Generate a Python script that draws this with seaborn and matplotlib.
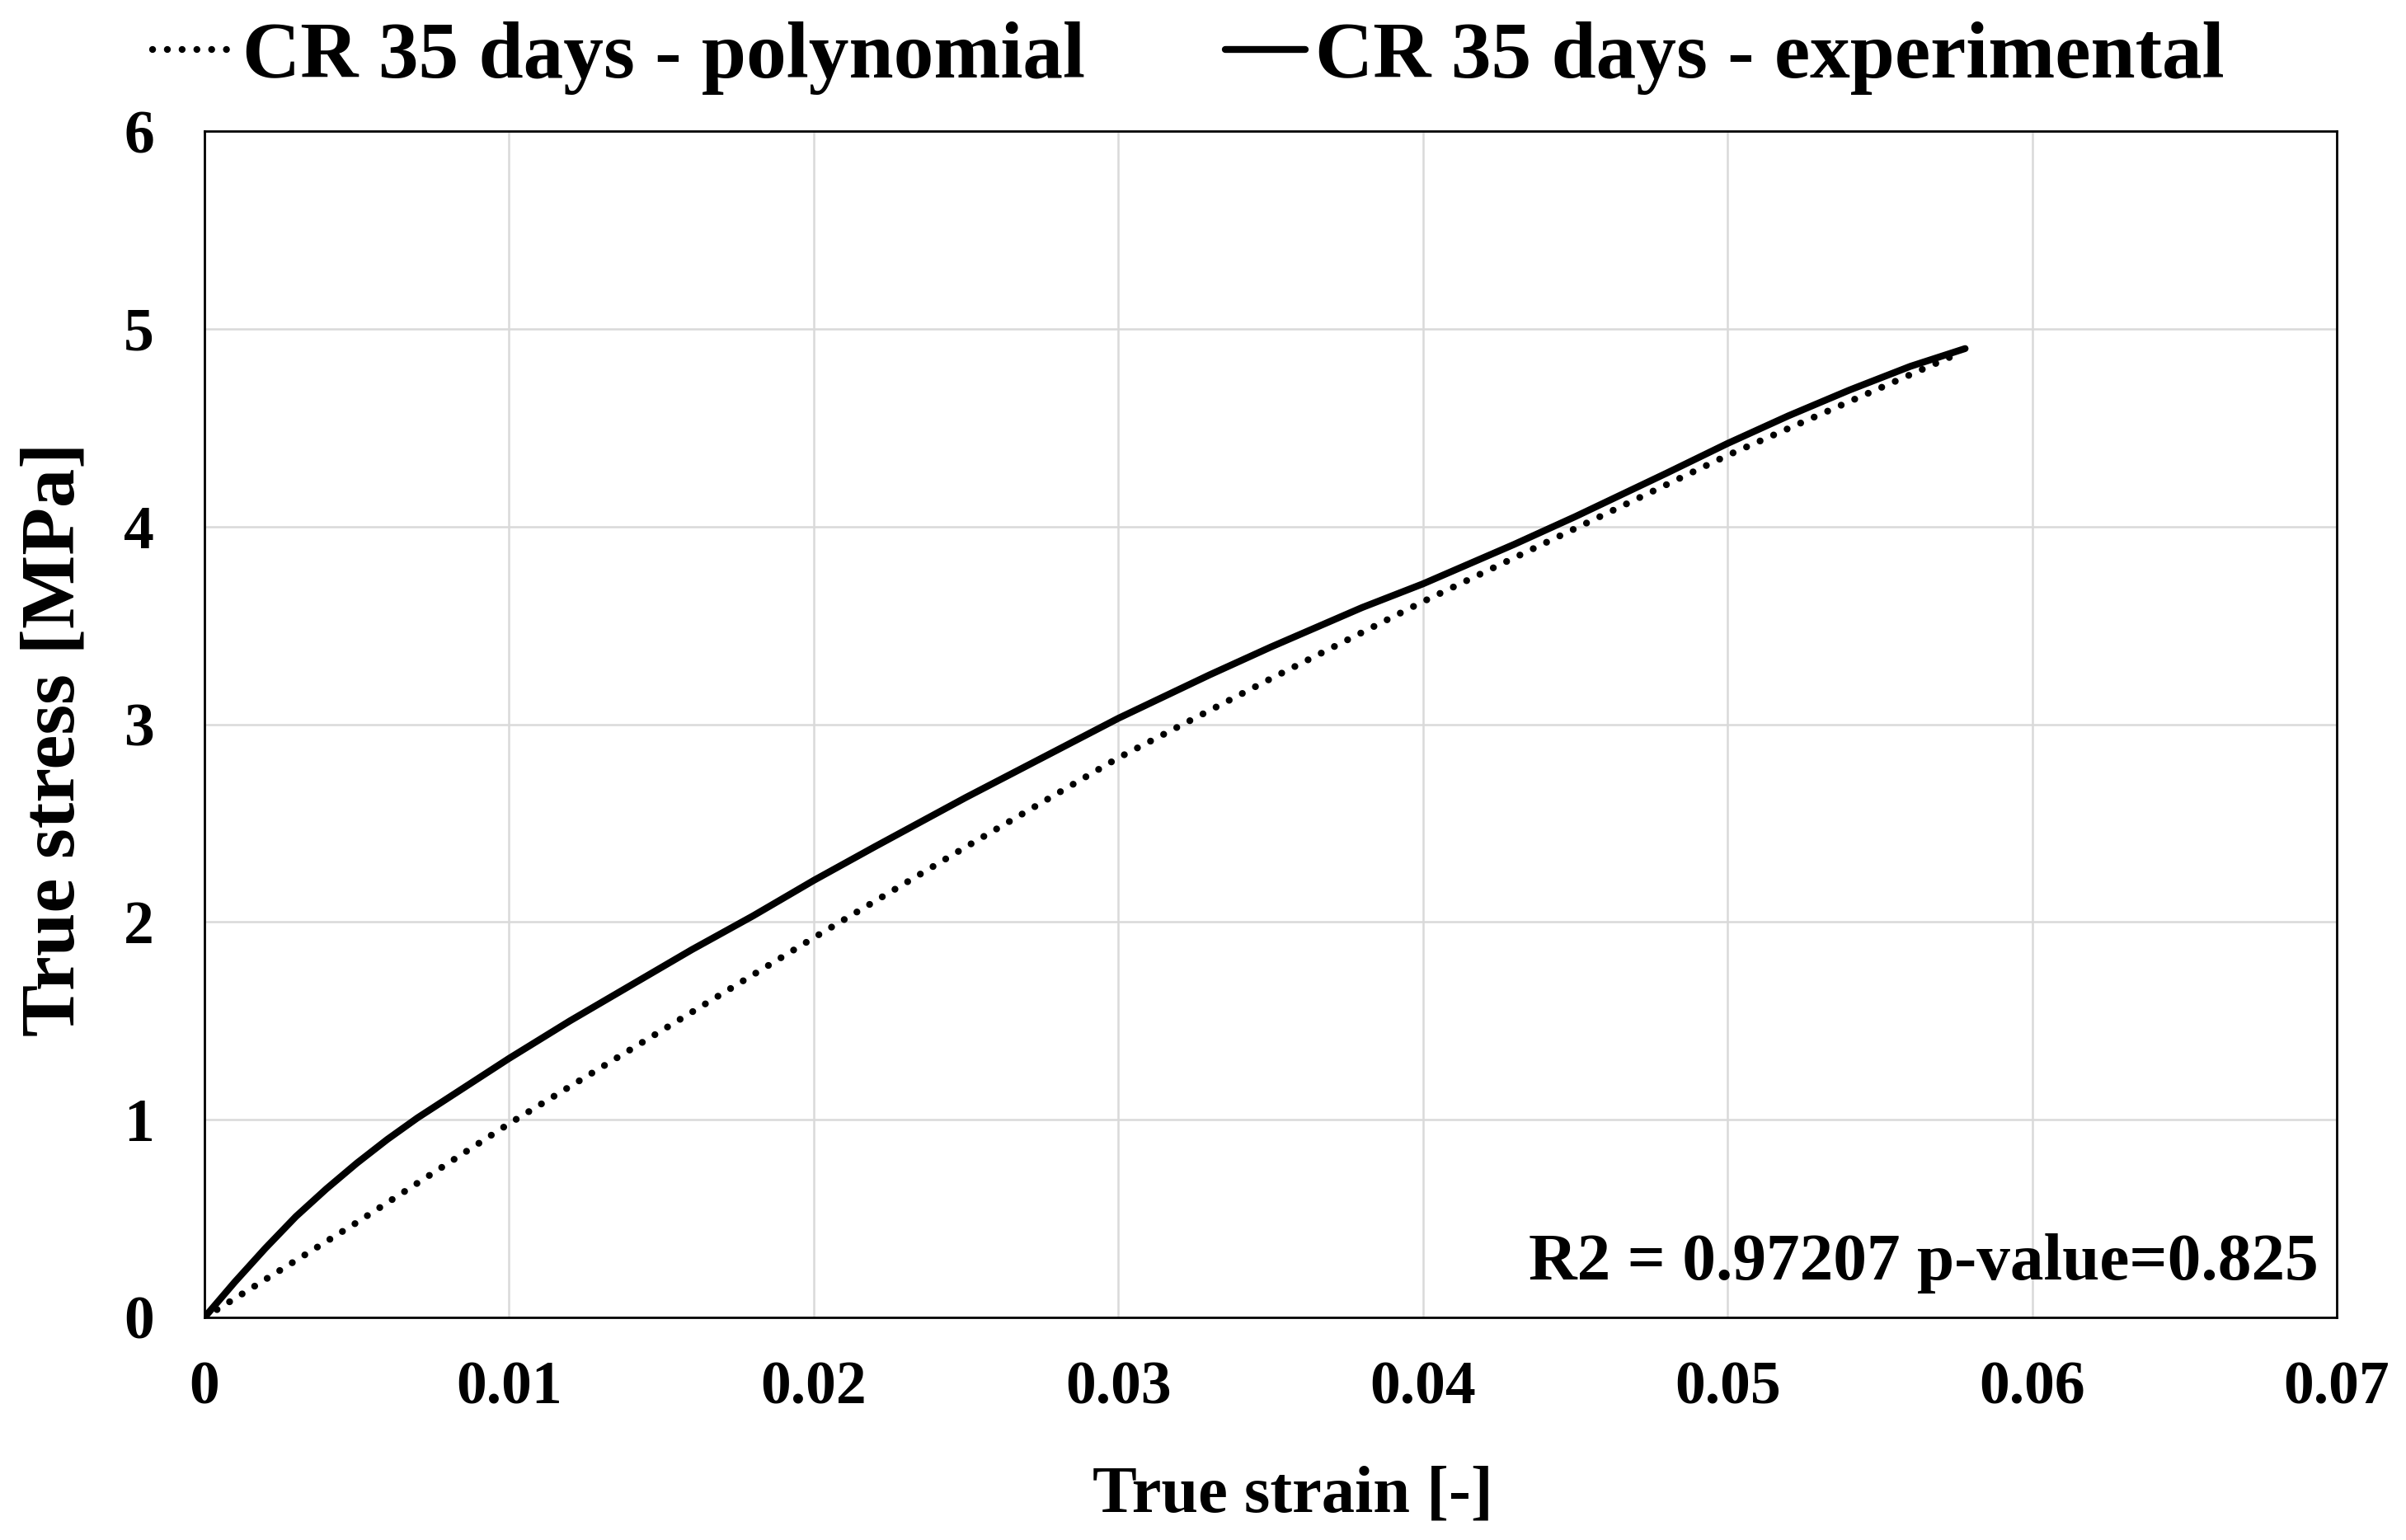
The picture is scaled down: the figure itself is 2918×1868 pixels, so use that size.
import numpy as np
import pandas as pd
import matplotlib
matplotlib.use("Agg")
import matplotlib.pyplot as plt
import seaborn as sns

# datos
strain_exp = [0, 0.001, 0.002, 0.003, 0.004, 0.005, 0.006, 0.007, 0.008, 0.010,
              0.012, 0.014, 0.016, 0.018, 0.020, 0.022, 0.025, 0.028, 0.030, 0.033,
              0.035, 0.038, 0.040, 0.043, 0.045, 0.048, 0.050, 0.052, 0.054, 0.056, 0.0578]
stress_exp = [0, 0.18, 0.35, 0.51, 0.65, 0.78, 0.90, 1.01, 1.11, 1.31,
              1.50, 1.68, 1.86, 2.03, 2.21, 2.38, 2.63, 2.87, 3.03, 3.25,
              3.39, 3.59, 3.71, 3.91, 4.05, 4.27, 4.42, 4.56, 4.69, 4.81, 4.90]

strain_poly = [0, 0.005, 0.010, 0.015, 0.020, 0.025, 0.030, 0.035, 0.040, 0.045, 0.050, 0.055, 0.0575]
stress_poly = [0, 0.48, 0.98, 1.45, 1.92, 2.38, 2.83, 3.23, 3.62, 3.99, 4.36, 4.70, 4.87]

label_poly = "CR 35 days - polynomial"
label_exp = "CR 35 days - experimental"
annotation = "R2 = 0.97207 p-value=0.825"

x_ticks = [0, 0.01, 0.02, 0.03, 0.04, 0.05, 0.06, 0.07]
x_tick_labels = ["0", "0.01", "0.02", "0.03", "0.04", "0.05", "0.06", "0.07"]
y_ticks = [0, 1, 2, 3, 4, 5, 6]

df_exp = pd.DataFrame({"strain": strain_exp, "stress": stress_exp})
df_poly = pd.DataFrame({"strain": strain_poly, "stress": stress_poly})

sns.set_theme(style="whitegrid")
plt.rcParams["font.family"] = ["Liberation Serif", "DejaVu Serif"]
plt.rcParams["font.weight"] = "bold"
plt.rcParams["axes.labelweight"] = "bold"

W, H = 2918, 1868
fig = plt.figure(figsize=(W / 100, H / 100), dpi=100)
left, right, top, bottom = 248, 2834, 159, 1598
ax = fig.add_axes([left / W, 1 - bottom / H, (right - left) / W, (bottom - top) / H])

sns.lineplot(data=df_poly, x="strain", y="stress", ax=ax, color="black", linewidth=6,
             linestyle=(0, (0.01, 2.14)), dash_capstyle="round", label=label_poly)
sns.lineplot(data=df_exp, x="strain", y="stress", ax=ax, color="black", linewidth=6,
             solid_capstyle="round", solid_joinstyle="round", label=label_exp)

ax.set_xlim(0, 0.07)
ax.set_ylim(0, 6)
ax.set_xticks(x_ticks)
ax.set_xticklabels(x_tick_labels)
ax.set_yticks(y_ticks)
ax.tick_params(axis="both", length=0, labelsize=53, colors="black")
ax.tick_params(axis="x", pad=38)
ax.tick_params(axis="y", pad=44)

ax.grid(True, color="#d9d9d9", lw=1.8)
for s in ax.spines.values():
    s.set_color("black")
    s.set_linewidth(2)

ax.set_xlabel("True strain [-]", fontsize=58, color="black")
ax.xaxis.label.set_va("baseline")
ax.xaxis.set_label_coords((1568 - left) / (right - left), (bottom - 1833) / (bottom - top))
ax.set_ylabel("True stress [MPa]", fontsize=68, color="black")
ax.yaxis.label.set(ha="center", va="center")
ax.yaxis.set_label_coords((67 - left) / (right - left), (bottom - 897) / (bottom - top))

ax.text((2812 - left) / (right - left), (bottom - 1552) / (bottom - top), annotation,
        transform=ax.transAxes, ha="right", va="baseline", fontsize=58.5, color="black")

handles, labels = ax.get_legend_handles_labels()
ax.legend(handles, labels, loc="center", bbox_to_anchor=(1441 / W, 1 - 70 / H),
          bbox_transform=fig.transFigure, ncol=2, frameon=False, fontsize=70,
          handlelength=1.0, handletextpad=0.12, columnspacing=1.75, labelcolor="black")

fig.savefig("out.png", dpi=100, facecolor="white")
